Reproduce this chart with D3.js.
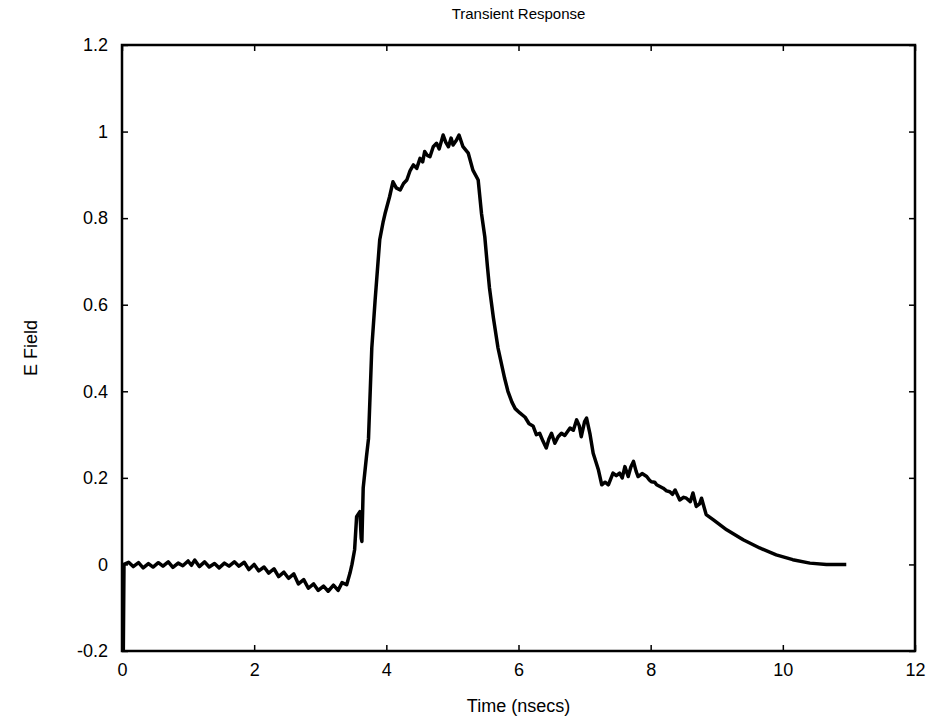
<!DOCTYPE html>
<html>
<head>
<meta charset="utf-8">
<script src="https://cdn.jsdelivr.net/npm/d3@7"></script>
<style>
  body { margin: 0; background: #fff; }
  svg text { font-family: "Liberation Sans", Arial, sans-serif; fill: #000; }
</style>
</head>
<body>
<svg id="chart" width="930" height="719"></svg>
<script>
// time in nsecs
const times = [0.02, 0.03, 0.1, 0.17, 0.25, 0.32, 0.4, 0.47, 0.55, 0.62, 0.7, 0.77, 0.85, 0.92, 1.0, 1.05,
  1.1, 1.17, 1.25, 1.32, 1.4, 1.47, 1.55, 1.62, 1.7, 1.77, 1.85, 1.92, 2.0, 2.07, 2.15, 2.22, 2.3, 2.37,
  2.45, 2.52, 2.6, 2.67, 2.75, 2.82, 2.9, 2.97, 3.05, 3.12, 3.2, 3.27, 3.33, 3.4, 3.45, 3.48, 3.52, 3.55,
  3.6, 3.62, 3.63, 3.65, 3.7, 3.73, 3.78, 3.83, 3.9, 3.95, 3.98, 4.05, 4.1, 4.15, 4.21, 4.26, 4.31, 4.36,
  4.41, 4.46, 4.51, 4.55, 4.58, 4.62, 4.66, 4.71, 4.76, 4.8, 4.86, 4.9, 4.94, 4.98, 5.01, 5.06, 5.1, 5.16,
  5.24, 5.31, 5.39, 5.44, 5.49, 5.53, 5.56, 5.62, 5.69, 5.79, 5.84, 5.9, 5.95, 6.02, 6.1, 6.16, 6.22, 6.27,
  6.32, 6.37, 6.42, 6.46, 6.5, 6.55, 6.6, 6.65, 6.7, 6.78, 6.83, 6.88, 6.92, 6.95, 7.0, 7.03, 7.08, 7.13,
  7.21, 7.26, 7.31, 7.36, 7.43, 7.48, 7.53, 7.57, 7.61, 7.66, 7.7, 7.74, 7.78, 7.81, 7.87, 7.94, 7.98,
  8.01, 8.06, 8.09, 8.14, 8.19, 8.24, 8.29, 8.33, 8.37, 8.44, 8.5, 8.54, 8.6, 8.64, 8.69, 8.74, 8.77,
  8.84, 8.95, 9.15, 9.4, 9.65, 9.9, 10.15, 10.41, 10.66, 10.96];

// E field values matching the times above
const efield = [-0.2, 0.0, 0.005, -0.005, 0.004, -0.008, 0.002, -0.006, 0.004, -0.004, 0.006, -0.007, 0.003, -0.003, 0.008, -0.002,
  0.01, -0.005, 0.006, -0.006, 0.002, -0.008, 0.003, -0.004, 0.006, -0.004, 0.005, -0.012, 0.0, -0.015, -0.006, -0.02, -0.01, -0.028,
  -0.018, -0.032, -0.022, -0.045, -0.035, -0.055, -0.045, -0.06, -0.05, -0.062, -0.048, -0.06, -0.042, -0.047, -0.02, 0.0, 0.034, 0.11,
  0.122, 0.06, 0.053, 0.177, 0.25, 0.29, 0.5, 0.61, 0.75, 0.79, 0.81, 0.85, 0.884, 0.87, 0.865, 0.88, 0.888, 0.91,
  0.923, 0.915, 0.938, 0.93, 0.954, 0.945, 0.942, 0.965, 0.973, 0.96, 0.992, 0.975, 0.965, 0.985, 0.969, 0.98, 0.992, 0.965,
  0.95, 0.911, 0.888, 0.811, 0.757, 0.688, 0.64, 0.57, 0.5, 0.43, 0.4, 0.375, 0.36, 0.35, 0.34, 0.325, 0.32, 0.30,
  0.303, 0.285, 0.269, 0.29, 0.303, 0.28, 0.295, 0.303, 0.298, 0.315, 0.31, 0.334, 0.32, 0.295, 0.33, 0.338, 0.303, 0.257,
  0.218, 0.184, 0.19, 0.184, 0.211, 0.205, 0.211, 0.2, 0.226, 0.203, 0.225, 0.238, 0.215, 0.203, 0.21, 0.203, 0.195,
  0.191, 0.19, 0.184, 0.18, 0.176, 0.17, 0.168, 0.162, 0.172, 0.149, 0.155, 0.153, 0.145, 0.165, 0.134, 0.14, 0.153,
  0.115, 0.103, 0.08, 0.057, 0.038, 0.022, 0.011, 0.003, 0.0, 0.0];

const xTicks = [0, 2, 4, 6, 8, 10, 12];
const yTicks = [-0.2, 0, 0.2, 0.4, 0.6, 0.8, 1, 1.2];

let data = times.map((t, i) => ({ t: t, v: efield[i] }));

let mLeft = 122, mTop = 45;
let pxX = 793, pxY = 606;

let scX = d3.scaleLinear().domain([0, 12]).range([0, pxX]);
let scY = d3.scaleLinear().domain([-0.2, 1.2]).range([pxY, 0]);

let svg = d3.select("#chart");
let g = svg.append("g").attr("transform", `translate(${mLeft},${mTop})`);

let fmt = d => String(+d.toFixed(1));

// bottom and left axes with labels, ticks pointing inward
let xAx = g.append("g").attr("transform", `translate(0,${pxY})`)
  .call(d3.axisBottom(scX).tickValues(xTicks).tickFormat(fmt).tickSizeInner(-6).tickSizeOuter(0).tickPadding(12));
let yAx = g.append("g")
  .call(d3.axisLeft(scY).tickValues(yTicks).tickFormat(fmt).tickSizeInner(-6).tickSizeOuter(0).tickPadding(14));
// top and right ticks, no labels
let tAx = g.append("g")
  .call(d3.axisTop(scX).tickValues(xTicks).tickFormat("").tickSizeInner(-6).tickSizeOuter(0));
let rAx = g.append("g").attr("transform", `translate(${pxX},0)`)
  .call(d3.axisRight(scY).tickValues(yTicks).tickFormat("").tickSizeInner(-6).tickSizeOuter(0));

[xAx, yAx, tAx, rAx].forEach(a => {
  a.select(".domain").remove();
  a.selectAll("line").attr("stroke", "#000").attr("stroke-width", 1.5);
  a.selectAll("text").style("font-size", "18px");
});

// trace
let lineMaker = d3.line().x(d => scX(d.t)).y(d => scY(d.v));
g.append("path")
  .attr("fill", "none").attr("stroke", "#000")
  .attr("stroke-width", 3.5).attr("stroke-linejoin", "round")
  .attr("d", lineMaker(data));

// box
g.append("rect")
  .attr("width", pxX).attr("height", pxY)
  .attr("fill", "none").attr("stroke", "#000").attr("stroke-width", 2.5);

svg.append("text")
  .attr("x", mLeft + pxX / 2).attr("y", 19)
  .attr("text-anchor", "middle").style("font-size", "15px")
  .text("Transient Response");

svg.append("text")
  .attr("x", mLeft + pxX / 2).attr("y", 712)
  .attr("text-anchor", "middle").style("font-size", "18px")
  .text("Time (nsecs)");

svg.append("text")
  .attr("transform", `translate(37,${mTop + pxY / 2}) rotate(-90)`)
  .attr("text-anchor", "middle").style("font-size", "18px")
  .text("E Field");
</script>
</body>
</html>
